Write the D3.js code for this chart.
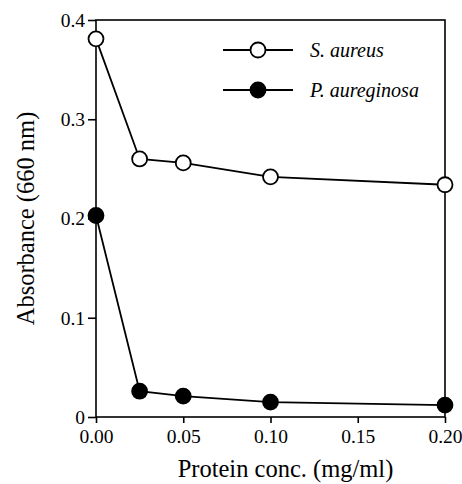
<!DOCTYPE html>
<html>
<head>
<meta charset="utf-8">
<script src="https://cdn.jsdelivr.net/npm/d3@7"></script>
<style>
  body { margin: 0; background: #fff; }
</style>
</head>
<body>
<div id="app"></div>
<script>
const conc = [0, 0.025, 0.05, 0.1, 0.2]
const sAureus = [0.381, 0.26, 0.256, 0.242, 0.234]
const pAeruginosa = [0.203, 0.026, 0.021, 0.015, 0.012]
const seriesNames = ['S. aureus', 'P. aureginosa']
const xTicks = [0, 0.05, 0.1, 0.15, 0.2]
const yTicks = [0, 0.1, 0.2, 0.3, 0.4]

const FONT = 'Liberation Serif'

const config = {
  width: 462,
  height: 484,
  margin: {top: 20, right: 17, bottom: 67, left: 96},
  r: 7.5,
}

const draw = () => {
  const {width, height, margin} = config
  const svg = d3
    .select('#app')
    .append('svg')
    .attr('width', width)
    .attr('height', height)

  const x = d3.scaleLinear().domain([0, 0.2]).range([margin.left, width - margin.right])
  const y = d3.scaleLinear().domain([0, 0.4]).range([height - margin.bottom, margin.top])

  // frame
  svg
    .append('rect')
    .attr('x', x(0))
    .attr('y', y(0.4))
    .attr('width', x(0.2) - x(0))
    .attr('height', y(0) - y(0.4))
    .attr('fill', 'none')
    .attr('stroke', '#000')
    .attr('stroke-width', 1.6)

  const xAxis = svg
    .append('g')
    .attr('transform', `translate(0,${y(0)})`)
    .call(d3.axisBottom(x).tickValues(xTicks).tickFormat(d3.format('.2f')).tickSize(6).tickPadding(6))
  const yAxis = svg
    .append('g')
    .attr('transform', `translate(${x(0)},0)`)
    .call(
      d3
        .axisLeft(y)
        .tickValues(yTicks)
        .tickFormat((d) => (d === 0 ? '0' : d3.format('.1f')(d)))
        .tickSize(8)
        .tickPadding(3),
    )
  for (const ax of [xAxis, yAxis]) {
    ax.select('.domain').remove()
    ax.selectAll('line').attr('stroke-width', 1.6)
    ax.selectAll('text')
      .style('font-family', FONT)
      .style('font-size', '19.5px')
      .attr('fill', '#000')
  }

  svg
    .append('text')
    .attr('x', (x(0) + x(0.2)) / 2 + 15)
    .attr('y', 477)
    .attr('text-anchor', 'middle')
    .style('font-family', FONT)
    .style('font-size', '24.5px')
    .text('Protein conc. (mg/ml)')
  svg
    .append('text')
    .attr('transform', `translate(34,${(y(0) + y(0.4)) / 2}) rotate(-90)`)
    .attr('text-anchor', 'middle')
    .style('font-family', FONT)
    .style('font-size', '24.5px')
    .text('Absorbance (660 nm)')

  const line = d3
    .line()
    .x((d) => x(d[0]))
    .y((d) => y(d[1]))

  const series = [
    {name: seriesNames[0], values: sAureus, fill: '#fff'},
    {name: seriesNames[1], values: pAeruginosa, fill: '#000'},
  ]

  series.forEach((s) => {
    const pts = conc.map((c, i) => [c, s.values[i]])
    svg
      .append('path')
      .attr('d', line(pts))
      .attr('fill', 'none')
      .attr('stroke', '#000')
      .attr('stroke-width', 1.8)
    svg
      .selectAll(null)
      .data(pts)
      .join('circle')
      .attr('cx', (d) => x(d[0]))
      .attr('cy', (d) => y(d[1]))
      .attr('r', config.r)
      .attr('fill', s.fill)
      .attr('stroke', '#000')
      .attr('stroke-width', 1.8)
  })

  // legend
  const legend = svg.append('g')
  series.forEach((s, i) => {
    const ly = 50 + i * 40
    legend
      .append('line')
      .attr('x1', 223)
      .attr('x2', 293)
      .attr('y1', ly)
      .attr('y2', ly)
      .attr('stroke', '#000')
      .attr('stroke-width', 1.8)
    legend
      .append('circle')
      .attr('cx', 258)
      .attr('cy', ly)
      .attr('r', config.r)
      .attr('fill', s.fill)
      .attr('stroke', '#000')
      .attr('stroke-width', 1.8)
    legend
      .append('text')
      .attr('x', 310)
      .attr('y', ly)
      .attr('dy', '0.35em')
      .style('font-family', FONT)
      .style('font-size', '20px')
      .style('font-style', 'italic')
      .text(s.name)
  })
}
draw()
</script>
</body>
</html>
